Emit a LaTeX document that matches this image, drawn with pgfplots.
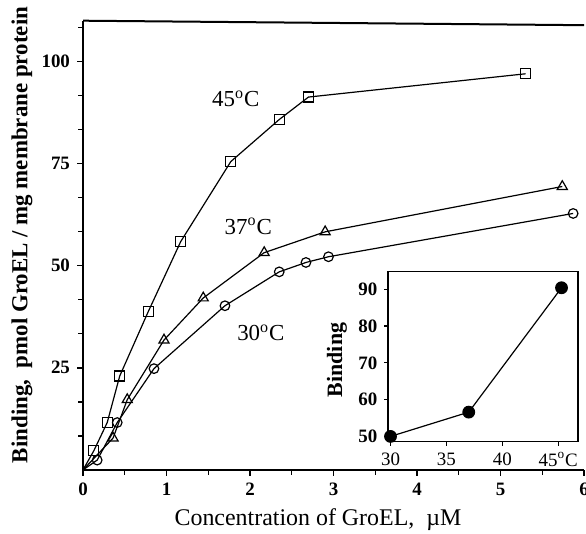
\documentclass[border=0pt]{standalone}
\usepackage{fontspec}
\setmainfont{Liberation Serif}
\usepackage{pgfplots}
\pgfplotsset{compat=1.18}
\usetikzlibrary{calc}

\begin{document}
\begin{tikzpicture}
\begin{axis}[
    name=main,
    width=250.5bp, height=224.6bp, scale only axis,
    xmin=0, xmax=6, ymin=0, ymax=110,
    axis x line*=bottom, axis y line*=left,
    axis line style={-, line width=1bp},
    xtick={0,1,2,3,4,5,6},
    minor x tick num=1,
    ytick={25,50,75,100},
    minor ytick={8.333,16.667,33.333,41.667,58.333,66.667,83.333,91.667,108.333},
    tick align=outside,
    major tick length=3bp, minor tick length=2.5bp,
    tick style={line width=0.7bp, black},
    ticklabel style={font=\bfseries\fontsize{9.5}{11}\selectfont},
    /pgf/number format/assume math mode=true,
    xlabel={Concentration of GroEL,\ \ µM},
    ylabel={\textbf{Binding,\ \ pmol GroEL / mg membrane protein}},
    xlabel style={at={(rel axis cs:0.469,-0.111)}, anchor=center, font=\fontsize{12}{14}\selectfont},
    ylabel style={at={(rel axis cs:-0.122,0.523)}, anchor=center, font=\fontsize{11.5}{13}\selectfont},
    clip=false,
]
% 45 C
\addplot[black, line width=0.6bp, mark=square, mark size=2.5bp, mark phase=2,
    mark options={fill=white, solid}] coordinates {
    (0,0) (0.13,4.7) (0.29,11.6) (0.44,23.0) (0.78,38.7) (1.17,55.9)
    (1.77,75.5) (2.35,85.8) (2.70,91.3) (5.30,97.0)
};
% 37 C
\addplot[black, line width=0.6bp, mark=triangle, mark size=2.9bp, mark phase=2,
    mark options={fill=white, solid}] coordinates {
    (0,0) (0.36,7.8) (0.53,17.2) (0.97,31.8) (1.44,42.1) (2.17,53.2)
    (2.90,58.3) (5.74,69.4)
};
% 30 C
\addplot[black, line width=0.6bp, mark=o, mark size=2.4bp, mark phase=2,
    mark options={fill=white, solid}] coordinates {
    (0,0) (0.17,2.4) (0.41,11.6) (0.85,24.8) (1.70,40.2) (2.35,48.5)
    (2.67,50.8) (2.94,52.2) (5.87,62.8)
};
\node[font=\fontsize{11.5}{13}\selectfont] at (axis cs:1.83,90.9) {45\textsuperscript{o}C};
\node[font=\fontsize{11.5}{13}\selectfont] at (axis cs:1.98,59.6) {37\textsuperscript{o}C};
\node[font=\fontsize{11.5}{13}\selectfont] at (axis cs:2.13,33.6) {30\textsuperscript{o}C};
\draw[line width=1bp] (rel axis cs:0,1) -- (rel axis cs:1,0.99);
\coordinate (insetpos) at (axis cs:3.656,6.94);
\coordinate (bl) at (rel axis cs:0,0);
\coordinate (tr) at (rel axis cs:1,1);
\end{axis}

\begin{axis}[
    at={(insetpos)}, anchor=south west,
    width=95bp, height=85bp, scale only axis,
    xmin=29.8, xmax=46.8, ymin=48.6, ymax=94.8,
    xtick={30,35,40,45}, xticklabels={30,35,40,45\textsuperscript{o}C},
    ytick={50,60,70,80,90},
    xtick pos=lower, ytick pos=left,
    tick align=outside,
    major tick length=2bp,
    tick style={line width=0.6bp, black},
    axis line style={line width=0.8bp},
    axis background/.style={fill=white},
    /pgf/number format/assume math mode=true,
    xticklabel style={font=\fontsize{9.5}{10}\selectfont},
    yticklabel style={font=\bfseries\fontsize{9.5}{10}\selectfont},
    ylabel={\textbf{Binding}},
    ylabel style={at={(rel axis cs:-0.27,0.48)}, anchor=center, font=\fontsize{11}{12}\selectfont},
    clip=false,
]
\addplot[black, line width=0.6bp, mark=*, mark size=2.9bp] coordinates {
    (30,50.0) (37,56.6) (45.3,90.4)
};
\end{axis}

\pgfresetboundingbox
\path[use as bounding box] ($(bl)+(-41.5bp,-32bp)$) rectangle ($(tr)+(1bp,10.35bp)$);
\end{tikzpicture}
\end{document}
